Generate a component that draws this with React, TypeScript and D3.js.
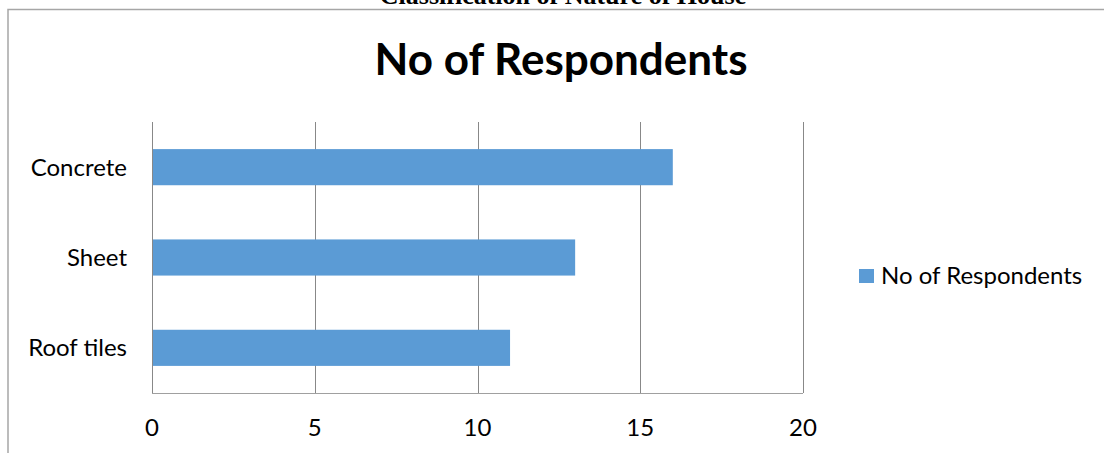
import React from "react";
import * as d3 from "d3";

const pageTitle = "Classification of Nature of House";
const chartTitle = "No of Respondents";
const seriesName = "No of Respondents";
const categories = ["Concrete", "Sheet", "Roof tiles"];
const values = [16, 13, 11];
const xTicks = [0, 5, 10, 15, 20];

const W = 1104;
const H = 453;
const plot = { left: 152, right: 803, top: 122, bottom: 393 };
const FONT = "Lato, 'Open Sans', sans-serif";

export default function App() {
  const x = d3.scaleLinear().domain([0, 20]).range([plot.left, plot.right]);
  const y = d3
    .scaleBand<string>()
    .domain(categories)
    .range([plot.top, plot.bottom])
    .paddingInner(0.6)
    .paddingOuter(0.3);

  return (
    <svg
      width={W}
      height={H}
      viewBox={`0 0 ${W} ${H}`}
      style={{ position: "absolute", left: 0, top: 0, display: "block", background: "#fff" }}
    >
      <rect x={0} y={0} width={W} height={H} fill="#fff" />
      {/* clipped page heading */}
      <text
        x={563}
        y={4}
        textAnchor="middle"
        fontFamily="'Liberation Serif', 'Times New Roman', serif"
        fontWeight="bold"
        fontSize={26}
        fill="#000"
      >
        {pageTitle}
      </text>
      {/* chart frame */}
      <rect x={8} y={9.5} width={W + 20} height={H + 20} fill="none" stroke="#a6a6a6" strokeWidth={1.5} />

      {/* chart title */}
      <text x={561} y={75} textAnchor="middle" fontFamily={FONT} fontWeight="bold" fontSize={44} fill="#000">
        {chartTitle}
      </text>

      {/* gridlines */}
      {xTicks.map((t) => (
        <line
          key={"g" + t}
          x1={Math.round(x(t)) + 0.5}
          x2={Math.round(x(t)) + 0.5}
          y1={plot.top}
          y2={plot.bottom}
          stroke="#888"
          strokeWidth={1}
        />
      ))}
      {/* bottom axis */}
      <line x1={plot.left} x2={plot.right} y1={plot.bottom + 0.5} y2={plot.bottom + 0.5} stroke="#a0a0a0" strokeWidth={1.2} />

      {/* bars */}
      {categories.map((c, i) => (
        <rect
          key={c}
          x={x(0) + 1}
          y={y(c)!}
          width={x(values[i]) - x(0) - 1}
          height={y.bandwidth()}
          fill="#5b9bd5"
        />
      ))}

      {/* category labels */}
      {categories.map((c) => (
        <text
          key={"l" + c}
          x={127}
          y={y(c)! + y.bandwidth() / 2 + 8.5}
          textAnchor="end"
          fontFamily={FONT}
          fontSize={24}
          fill="#000"
        >
          {c}
        </text>
      ))}

      {/* x tick labels */}
      {xTicks.map((t) => (
        <text key={"t" + t} x={x(t)} y={436} textAnchor="middle" fontFamily={FONT} fontSize={24} fill="#000">
          {t}
        </text>
      ))}

      {/* legend */}
      <rect x={859} y={269} width={15} height={14} fill="#5b9bd5" />
      <text x={881} y={284} fontFamily={FONT} fontSize={24} fill="#000">
        {seriesName}
      </text>
    </svg>
  );
}
